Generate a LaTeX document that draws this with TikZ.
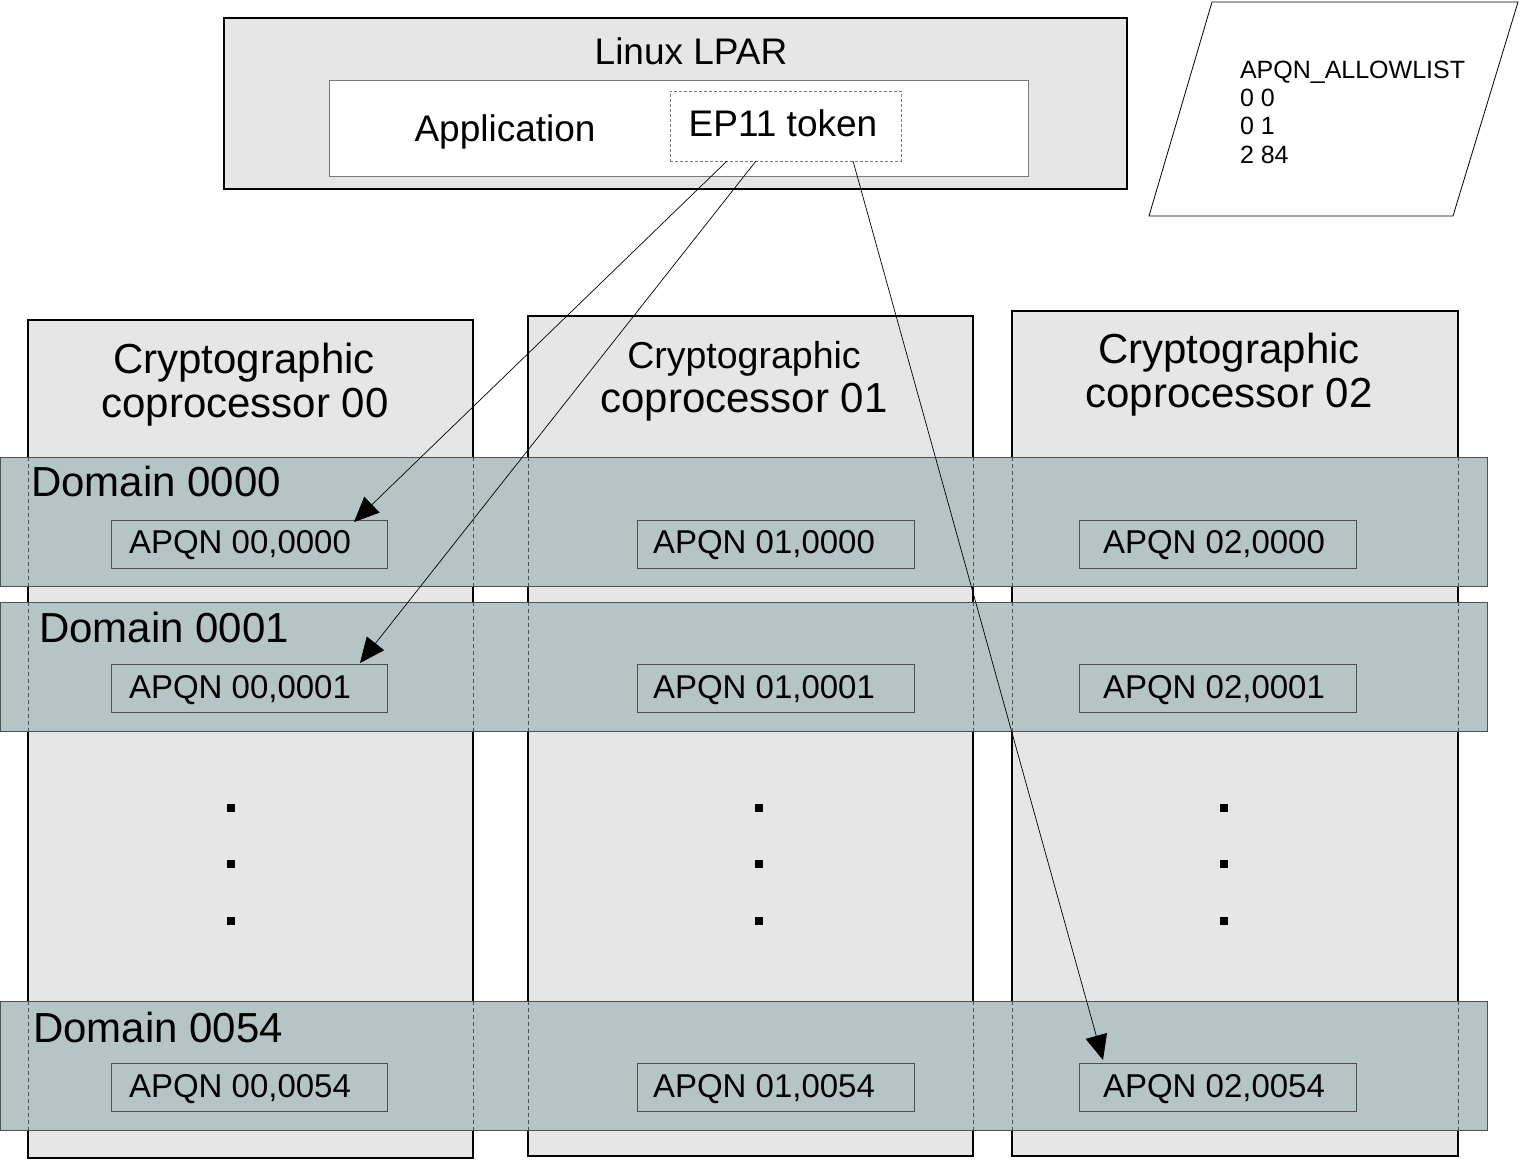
\documentclass[tikz,border=0pt]{standalone}
\usepackage{fontspec}
\setmainfont{Liberation Sans}
\usetikzlibrary{arrows.meta,calc}
\definecolor{boxgray}{RGB}{230,230,230}
\definecolor{bandcol}{RGB}{181,196,196}
\definecolor{edgegray}{RGB}{80,80,80}
\definecolor{lightedge}{RGB}{120,120,120}
\newcommand\myfs[1]{\fontsize{#1}{#1}\selectfont}
\begin{document}
\begin{tikzpicture}[x=1pt,y=-1pt,
  every node/.style={inner sep=0pt,outer sep=0pt},
  rbox/.style n args={2}{anchor=north west,minimum width=#1,minimum height=#2},
  lparbox/.style={draw=black,line width=2pt,fill=boxgray},
  appbox/.style={draw=lightedge,line width=1pt,fill=white},
  tokbox/.style={draw=lightedge,line width=0.8pt,dash pattern=on 3pt off 2pt},
  colbox/.style={draw=black,line width=2pt,fill=boxgray},
  bandbox/.style={draw=edgegray,line width=1pt,fill=bandcol},
  apqnbox/.style={draw=edgegray,line width=1pt},
  edgedash/.style={draw=edgegray,line width=0.8pt,dash pattern=on 4pt off 3pt},
  dotsq/.style={fill=black,minimum width=8pt,minimum height=8pt},
  arr/.style={draw=black,line width=0.7pt,-{Triangle[length=25pt,width=22pt]}},
  titlefont/.style={font=\myfs{42}},
  domfont/.style={font=\myfs{42}},
  apqnfont/.style={font=\myfs{33}},
  lparfont/.style={font=\myfs{37}},
  allowfont/.style={font=\myfs{25}}
]
\useasboundingbox (0,0) rectangle (1521,1160);

% coprocessor columns
\node[colbox,rbox={445pt}{838pt}] (col0) at (28,320) {};
\node[colbox,rbox={445pt}{840pt}] (col1) at (528,316) {};
\node[colbox,rbox={446pt}{845pt}] (col2) at (1012,311) {};

\node[titlefont,anchor=base] (t0a) at (244,373) {Cryptographic};
\node[titlefont,anchor=base] (t0b) at (245,417) {coprocessor 00};
\node[font=\myfs{37.5},anchor=base] (t1a) at (744,368) {Cryptographic};
\node[titlefont,anchor=base] (t1b) at (744,412) {coprocessor 01};
\node[titlefont,anchor=base] (t2a) at (1229,363) {Cryptographic};
\node[titlefont,anchor=base] (t2b) at (1229,407) {coprocessor 02};

% domain bands
\node[bandbox,rbox={1487pt}{129pt}] (band0) at (0,457) {};
\node[bandbox,rbox={1487pt}{129pt}] (band1) at (0,602) {};
\node[bandbox,rbox={1487pt}{129pt}] (band54) at (0,1001) {};

% dashed column edges inside the bands
\foreach \b in {band0,band1,band54}{
  \foreach \c in {col0,col1,col2}{
    \draw[edgedash] (\c.north west |- \b.north) -- (\c.north west |- \b.south);
    \draw[edgedash] (\c.north east |- \b.north) -- (\c.north east |- \b.south);
  }
}

\node[domfont,anchor=base west] (d0) at (31,496) {Domain 0000};
\node[domfont,anchor=base west] (d1) at (39,642) {Domain 0001};
\node[domfont,anchor=base west] (d54) at (33,1042) {Domain 0054};

% APQN boxes
\node[apqnbox,rbox={276pt}{48pt}] (a00) at (111,520) {};
\node[apqnbox,rbox={277pt}{48pt}] (a10) at (637,520) {};
\node[apqnbox,rbox={277pt}{48pt}] (a20) at (1079,520) {};
\node[apqnbox,rbox={276pt}{48pt}] (a01) at (111,664) {};
\node[apqnbox,rbox={277pt}{48pt}] (a11) at (637,664) {};
\node[apqnbox,rbox={277pt}{48pt}] (a21) at (1079,664) {};
\node[apqnbox,rbox={276pt}{48pt}] (a054) at (111,1063) {};
\node[apqnbox,rbox={277pt}{48pt}] (a154) at (637,1063) {};
\node[apqnbox,rbox={277pt}{48pt}] (a254) at (1079,1063) {};

\node[apqnfont,anchor=base west] (ta00) at (129,553) {APQN 00,0000};
\node[apqnfont,anchor=base west] (ta10) at (653,553) {APQN 01,0000};
\node[apqnfont,anchor=base west] (ta20) at (1103,553) {APQN 02,0000};
\node[apqnfont,anchor=base west] (ta01) at (129,698) {APQN 00,0001};
\node[apqnfont,anchor=base west] (ta11) at (653,698) {APQN 01,0001};
\node[apqnfont,anchor=base west] (ta21) at (1103,698) {APQN 02,0001};
\node[apqnfont,anchor=base west] (ta054) at (129,1097) {APQN 00,0054};
\node[apqnfont,anchor=base west] (ta154) at (653,1097) {APQN 01,0054};
\node[apqnfont,anchor=base west] (ta254) at (1103,1097) {APQN 02,0054};

% vertical dots
\foreach \x/\n in {231/0,759/1,1224/2}{
  \foreach \y/\m in {808/a,864/b,921/c}{
    \node[dotsq] (dot\n\m) at (\x,\y) {};
  }
}

% Linux LPAR
\node[lparbox,rbox={903pt}{171pt}] (lpar) at (224,18) {};
\node[lparfont,anchor=base] (lpartxt) at (691,64) {Linux LPAR};
\node[appbox,rbox={699pt}{96pt}] (app) at (329,80) {};
\node[lparfont,anchor=base] (apptxt) at (505,141) {Application};
\node[tokbox,rbox={231pt}{70pt}] (ep11) at (670,91) {};
\node[lparfont,anchor=base] (ep11txt) at (783,136) {EP11 token};

% allowlist
\draw[black,line width=0.8pt] (1212,2) -- (1518,2) -- (1453,216) -- (1149,216) -- cycle;
\node[allowfont,anchor=base west] (al1) at (1240,78) {APQN\_ALLOWLIST};
\node[allowfont,anchor=base west] (al2) at (1240,106) {0 0};
\node[allowfont,anchor=base west] (al3) at (1240,134) {0 1};
\node[allowfont,anchor=base west] (al4) at (1240,163) {2 84};

% arrows
\draw[arr] ([xshift=57pt]ep11.south west) -- ([xshift=-33pt,yshift=-2pt]a00.north east);
\draw[arr] ([xshift=86pt]ep11.south west) -- ([xshift=-27pt,yshift=1pt]a01.north east);
\draw[arr] ([xshift=183pt]ep11.south west) -- ([xshift=24pt,yshift=3pt]a254.north west);
\end{tikzpicture}
\end{document}
